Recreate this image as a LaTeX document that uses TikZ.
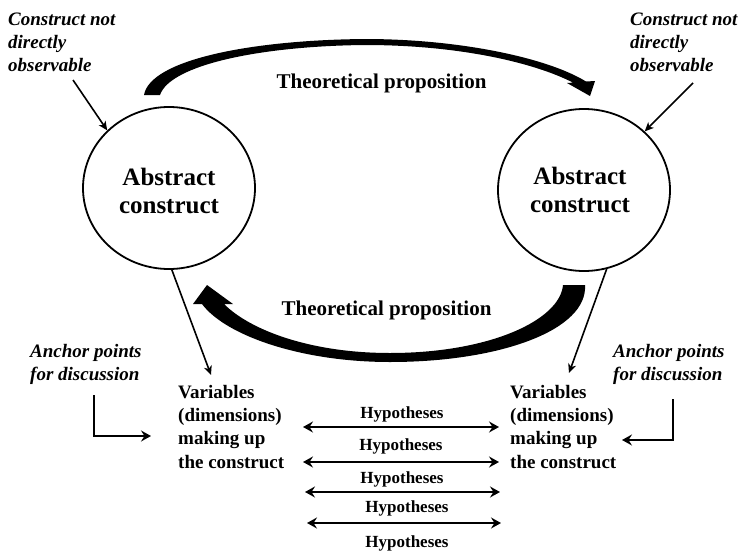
\documentclass[tikz,border=0pt]{standalone}
\usepackage{fontspec}
\setmainfont{Liberation Serif}
\usetikzlibrary{arrows.meta,shapes.geometric}
\begin{document}
\begin{tikzpicture}[x=1pt,y=-1pt,
  lbl/.style={font=\fontsize{19}{22.8}\selectfont\bfseries\itshape, align=left, inner sep=0, anchor=base west},
  var/.style={font=\fontsize{19}{23.3}\selectfont\bfseries, align=left, inner sep=0, anchor=base west},
  hyp/.style={font=\fontsize{17}{20}\selectfont\bfseries, inner sep=0, anchor=base},
  prop/.style={font=\fontsize{21}{25}\selectfont\bfseries, inner sep=0, anchor=base},
  cons/.style={ellipse, draw, line width=1.8pt, minimum width=172pt, minimum height=162pt, inner sep=0},
  constext/.style={font=\fontsize{25}{28}\selectfont\bfseries, align=center, inner sep=0, anchor=base},
  thinarrow/.style={line width=1.6pt, -{Stealth[length=9pt,width=8pt,inset=2.5pt]}},
  hyparrow/.style={line width=2.6pt, {Stealth[length=10pt,width=11pt,inset=3.5pt]}-{Stealth[length=10pt,width=11pt,inset=3.5pt]}},
  larrow/.style={line width=2.6pt, -{Stealth[length=10pt,width=11pt,inset=3.5pt]}},
  bigarrow/.style={fill=black, draw=none}
]
\useasboundingbox (0,0) rectangle (739,552);

% circles
\node[cons] (lc) at (169,188) {};
\node[cons] (rc) at (584,190) {};
\node[constext] (lct) at (169,213) {Abstract\\construct};
\node[constext] (rct) at (580,212) {Abstract\\construct};

% top labels
\node[lbl] (cnl) at (8,71) {Construct not\\directly\\observable};
\node[lbl] (cnr) at (630,71) {Construct not\\directly\\observable};
\coordinate (cnls) at (73,80);
\coordinate (cnrs) at (693,83);
\draw[thinarrow] (cnls) -- (lc.137);
\draw[thinarrow] (cnrs) -- (rc.44);

% propositions
\node[prop] (tp1) at (381.5,88) {Theoretical proposition};
\node[prop] (tp2) at (386.5,315) {Theoretical proposition};

% top big arrow
\path[bigarrow] (144,95) .. controls (150,60) and (250,40) .. (365,39)
  .. controls (460,39) and (548,58) .. (586,81.5)
  -- (595,81) -- (590,96) -- (567,83) -- (573,82.6)
  .. controls (535,63) and (460,45) .. (365,45)
  .. controls (260,46) and (170,65) .. (160,95) -- cycle;

% bottom big arrow
\path[bigarrow] (563,285) -- (585,285)
  .. controls (588,330) and (500,362) .. (390,362)
  .. controls (300,362) and (225,335) .. (202,304)
  -- (193,304) -- (207,285) -- (233,304) -- (224,304)
  .. controls (250,330) and (310,353) .. (390,353)
  .. controls (490,353) and (560,320) .. (563,285) -- cycle;

% variables
\node[var] (vl) at (178,468) {Variables\\(dimensions)\\making up\\the construct};
\node[var] (vr) at (510,468) {Variables\\(dimensions)\\making up\\the construct};
\coordinate (vlt) at (211,375);
\coordinate (vrt) at (569,373);
\draw[thinarrow] (lc.-88) -- (vlt);
\draw[thinarrow] (rc.-74) -- (vrt);

% anchor points
\node[lbl] (apl) at (30,380) {Anchor points\\for discussion};
\node[lbl] (apr) at (613,380) {Anchor points\\for discussion};
\coordinate (apls) at (94,395);
\coordinate (aple) at (151,436);
\coordinate (aprs) at (673,399);
\coordinate (apre) at (622,440);
\draw[larrow] (apls) |- (aple);
\draw[larrow] (aprs) |- (apre);

% hypotheses
\node[hyp] (h1) at (402,418) {Hypotheses};
\node[hyp] (h2) at (401,450) {Hypotheses};
\node[hyp] (h3) at (402,483) {Hypotheses};
\node[hyp] (h4) at (407,512) {Hypotheses};
\node[hyp] (h5) at (407,547) {Hypotheses};
\coordinate (a1l) at (303,427); \coordinate (a1r) at (499,427);
\coordinate (a2l) at (303,462); \coordinate (a2r) at (499,462);
\coordinate (a3l) at (305,492); \coordinate (a3r) at (500,492);
\coordinate (a4l) at (307,523); \coordinate (a4r) at (501,523);
\draw[hyparrow] (a1l) -- (a1r);
\draw[hyparrow] (a2l) -- (a2r);
\draw[hyparrow] (a3l) -- (a3r);
\draw[hyparrow] (a4l) -- (a4r);
\end{tikzpicture}
\end{document}
